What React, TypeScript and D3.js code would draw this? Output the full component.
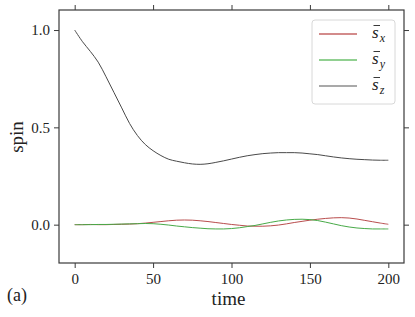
import { useRef, useEffect } from 'react';
import * as d3 from 'd3';

const times = [
  0, 5, 10, 15, 20, 25, 30, 35, 40, 45, 50, 55, 60, 65, 70, 75, 80, 85, 90, 95, 100,
  105, 110, 115, 120, 125, 130, 135, 140, 145, 150, 155, 160, 165, 170, 175, 180, 185, 190, 195, 200,
];

const sx = [
  0, 0, 0.001, 0, 0, 0.001, 0.002, 0.003, 0.005, 0.008, 0.012, 0.016, 0.02, 0.023, 0.024, 0.023,
  0.02, 0.016, 0.011, 0.006, 0.001, -0.003, -0.007, -0.008, -0.008, -0.006, -0.002, 0.004, 0.011,
  0.017, 0.023, 0.028, 0.032, 0.035, 0.036, 0.034, 0.029, 0.022, 0.015, 0.008, 0.002,
];

const sy = [
  0, 0, 0, 0.001, 0.001, 0.002, 0.003, 0.004, 0.005, 0.006, 0.005, 0.002, -0.002, -0.007, -0.011,
  -0.015, -0.018, -0.021, -0.022, -0.022, -0.02, -0.016, -0.01, -0.004, 0.004, 0.012, 0.019, 0.024,
  0.027, 0.028, 0.026, 0.021, 0.013, 0.004, -0.005, -0.012, -0.017, -0.02, -0.022, -0.022, -0.022,
];

const sz = [
  1.0, 0.94, 0.89, 0.835, 0.76, 0.68, 0.6, 0.52, 0.458, 0.412, 0.38, 0.355, 0.336, 0.326, 0.318,
  0.312, 0.31, 0.313, 0.32, 0.328, 0.337, 0.346, 0.354, 0.36, 0.365, 0.368, 0.37, 0.37, 0.37, 0.368,
  0.364, 0.36, 0.354, 0.348, 0.343, 0.339, 0.336, 0.334, 0.332, 0.331, 0.331,
];

const xTicks = [0, 50, 100, 150, 200];
const yTicks = [0, 0.5, 1.0];

const seriesList = [
  { sub: 'x', values: sx, color: '#b94d4d', legendColor: '#c46464' },
  { sub: 'y', values: sy, color: '#48aa48', legendColor: '#6cc06c' },
  { sub: 'z', values: sz, color: '#4a4a4a', legendColor: '#8c8c8c' },
];

const W = 415;
const H = 317;
const margin = { top: 10, right: 11, bottom: 54, left: 59 };
const font = "'Liberation Serif', serif";
const axisColor = '#3a3a3a';

export default function App() {
  const svgRef = useRef<SVGSVGElement>(null);

  useEffect(() => {
    if (!svgRef.current) return;
    const svg = d3.select(svgRef.current);
    svg.selectAll('*').remove();

    const innerW = W - margin.left - margin.right;
    const innerH = H - margin.top - margin.bottom;

    const x = d3.scaleLinear().domain([-10, 210]).range([0, innerW]);
    const y = d3.scaleLinear().domain([-0.197, 1.103]).range([innerH, 0]);

    const g = svg.append('g').attr('transform', `translate(${margin.left},${margin.top})`);

    for (const s of seriesList) {
      const line = d3
        .line<number>()
        .x((_, i) => x(times[i]))
        .y((d) => y(d))
        .curve(d3.curveCatmullRom);
      g.append('path')
        .datum(s.values)
        .attr('fill', 'none')
        .attr('stroke', s.color)
        .attr('stroke-width', 1)
        .attr('d', line);
    }

    // ticks on all four sides, labels only bottom/left
    const styleAxis = (sel: d3.Selection<SVGGElement, unknown, null, undefined>, labels: boolean) => {
      sel.attr('font-family', null).attr('font-size', null);
      sel.select('.domain').remove();
      sel.selectAll('line').attr('stroke', axisColor).attr('stroke-width', 1);
      sel
        .selectAll('text')
        .attr('fill', '#222')
        .style('font-family', font)
        .style('font-size', '15px')
        .style('display', labels ? null : 'none');
    };

    g.append('g')
      .attr('transform', `translate(0,${innerH})`)
      .call(d3.axisBottom(x).tickValues(xTicks).tickSize(5).tickPadding(5).tickFormat(d3.format('d')))
      .call((s) => styleAxis(s, true));
    g.append('g')
      .call(d3.axisTop(x).tickValues(xTicks).tickSize(5))
      .call((s) => styleAxis(s, false));
    g.append('g')
      .call(d3.axisLeft(y).tickValues(yTicks).tickSize(5).tickPadding(4).tickFormat(d3.format('.1f')))
      .call((s) => styleAxis(s, true));
    g.append('g')
      .attr('transform', `translate(${innerW},0)`)
      .call(d3.axisRight(y).tickValues(yTicks).tickSize(5))
      .call((s) => styleAxis(s, false));

    g.append('rect')
      .attr('width', innerW)
      .attr('height', innerH)
      .attr('fill', 'none')
      .attr('stroke', axisColor)
      .attr('stroke-width', 1.2);

    const addText = (txt: string, size: number) =>
      svg
        .append('text')
        .style('font-family', font)
        .style('font-size', `${size}px`)
        .attr('fill', '#222')
        .text(txt);

    addText('time', 19)
      .attr('x', margin.left + innerW / 2 - 3)
      .attr('y', 305)
      .attr('text-anchor', 'middle');

    addText('spin', 19)
      .attr('transform', `translate(23,${margin.top + 127}) rotate(-90)`)
      .attr('text-anchor', 'middle');

    addText('(a)', 18).attr('x', 7).attr('y', 301);

    // legend
    const legend = svg.append('g').attr('transform', 'translate(312,20)');
    legend
      .append('rect')
      .attr('width', 83)
      .attr('height', 84)
      .attr('rx', 3)
      .attr('fill', '#fff')
      .attr('stroke', '#d8d8d8')
      .attr('stroke-width', 1);
    seriesList.forEach((s, i) => {
      const row = legend.append('g').attr('transform', `translate(0,${14 + i * 26})`);
      row
        .append('line')
        .attr('x1', 7)
        .attr('x2', 45)
        .attr('stroke', s.legendColor)
        .attr('stroke-width', 1.3);
      // bar over the s
      row
        .append('line')
        .attr('x1', 61.5)
        .attr('x2', 68)
        .attr('y1', -8.5)
        .attr('y2', -8.5)
        .attr('stroke', '#222')
        .attr('stroke-width', 0.9);
      const t = row
        .append('text')
        .attr('x', 60)
        .attr('y', 4)
        .style('font-family', font)
        .style('font-size', '17px')
        .style('font-style', 'italic')
        .attr('fill', '#222');
      t.append('tspan').text('s');
      t.append('tspan').attr('dx', 1).attr('dy', 4).style('font-size', '12px').text(s.sub);
    });
  }, []);

  return (
    <svg
      ref={svgRef}
      width={W}
      height={H}
      viewBox={`0 0 ${W} ${H}`}
      style={{ position: 'absolute', left: 0, top: 0, display: 'block', background: '#fff' }}
    />
  );
}
